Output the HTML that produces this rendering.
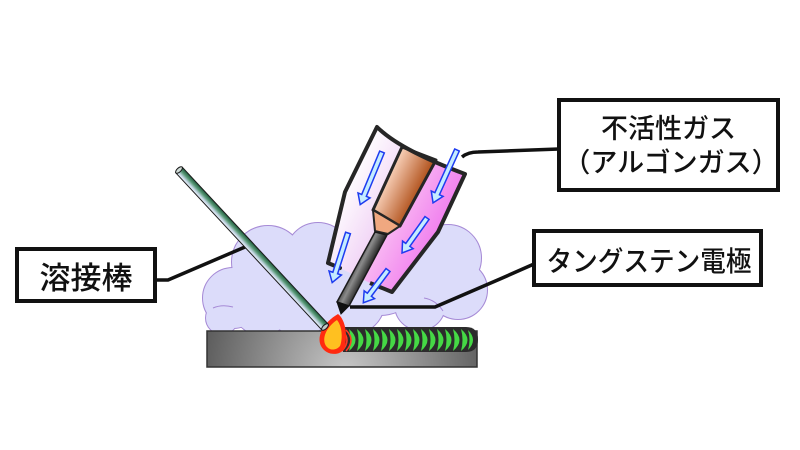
<!DOCTYPE html>
<html><head><meta charset="utf-8">
<style>html,body{margin:0;padding:0;background:#fff;}svg{display:block}</style></head>
<body>
<svg width="800" height="450" viewBox="0 0 800 450" xmlns="http://www.w3.org/2000/svg">
<defs>
  <linearGradient id="noz" gradientUnits="userSpaceOnUse" x1="340" y1="190" x2="440" y2="241">
    <stop offset="0" stop-color="#ffffff"/>
    <stop offset="0.45" stop-color="#f2d6f6"/>
    <stop offset="0.55" stop-color="#f8b4f2"/>
    <stop offset="1" stop-color="#f07aee"/>
  </linearGradient>
  <linearGradient id="cop" gradientUnits="userSpaceOnUse" x1="386" y1="180" x2="418" y2="196">
    <stop offset="0" stop-color="#f8d0b8"/>
    <stop offset="1" stop-color="#b0501a"/>
  </linearGradient>
  <linearGradient id="ele" gradientUnits="userSpaceOnUse" x1="355" y1="266" x2="367" y2="272">
    <stop offset="0" stop-color="#555"/>
    <stop offset="0.35" stop-color="#8a8a8a"/>
    <stop offset="1" stop-color="#2e2e2e"/>
  </linearGradient>
  <linearGradient id="rod" x1="0" y1="0" x2="0" y2="1">
    <stop offset="0" stop-color="#1e5a3c"/>
    <stop offset="0.4" stop-color="#5a9a78"/>
    <stop offset="0.75" stop-color="#c4d6e4"/>
    <stop offset="1" stop-color="#eef2fa"/>
  </linearGradient>
  <radialGradient id="plate" gradientUnits="userSpaceOnUse" cx="345" cy="372" r="150">
    <stop offset="0" stop-color="#c8c8c8"/>
    <stop offset="1" stop-color="#575757"/>
  </radialGradient>
</defs>

<!-- cloud -->
<g fill="none" stroke="#a68ad6" stroke-width="2">
  <circle cx="233" cy="298" r="30"/><circle cx="222" cy="318" r="16"/>
  <circle cx="268" cy="262" r="36"/><circle cx="318" cy="255" r="32"/>
  <circle cx="300" cy="295" r="40"/><circle cx="262" cy="305" r="30"/>
  <circle cx="380" cy="270" r="45"/><circle cx="350" cy="300" r="35"/>
  <circle cx="448" cy="258" r="33"/><circle cx="458" cy="290" r="29"/>
  <circle cx="420" cy="305" r="25"/>
</g>
<g fill="#dcdcfa">
  <circle cx="233" cy="298" r="30"/><circle cx="222" cy="318" r="16"/>
  <circle cx="268" cy="262" r="36"/><circle cx="318" cy="255" r="32"/>
  <circle cx="300" cy="295" r="40"/><circle cx="262" cy="305" r="30"/>
  <circle cx="380" cy="270" r="45"/><circle cx="350" cy="300" r="35"/>
  <circle cx="448" cy="258" r="33"/><circle cx="458" cy="290" r="29"/>
  <circle cx="420" cy="305" r="25"/>
</g>
<g fill="none" stroke="#a68ad6" stroke-width="1">
  <path d="M213,308 Q222,304 233,307"/>
  <path d="M424,298 Q436,300 443,311"/>
</g>

<!-- connector lines -->
<g fill="none" stroke="#111" stroke-width="3.5" stroke-linejoin="round">
  <path d="M157,280 L168,280 L252,244"/>
  <path d="M350,307 L435,307 L500,279 L534,264"/>
  <path d="M462,157 Q468,152 478,152 L559,149"/>
</g>

<!-- plate -->
<rect x="207" y="331" width="270" height="36" fill="url(#plate)" stroke="#333" stroke-width="1.5"/>

<!-- bead -->
<path d="M343,327 L466,327 Q478,327 478,339.5 Q478,352 466,352 L343,352 Z" fill="#2c2c2c"/>
<g fill="#45d845">
  <path d="M349,329 Q362,340 349,351 Q352,340 349,329 Z"/>
  <path d="M357,329 Q370,340 357,351 Q360,340 357,329 Z"/>
  <path d="M365,329 Q378,340 365,351 Q368,340 365,329 Z"/>
  <path d="M373,329 Q386,340 373,351 Q376,340 373,329 Z"/>
  <path d="M381,329 Q394,340 381,351 Q384,340 381,329 Z"/>
  <path d="M389,329 Q402,340 389,351 Q392,340 389,329 Z"/>
  <path d="M397,329 Q410,340 397,351 Q400,340 397,329 Z"/>
  <path d="M405,329 Q418,340 405,351 Q408,340 405,329 Z"/>
  <path d="M413,329 Q426,340 413,351 Q416,340 413,329 Z"/>
  <path d="M421,329 Q434,340 421,351 Q424,340 421,329 Z"/>
  <path d="M429,329 Q442,340 429,351 Q432,340 429,329 Z"/>
  <path d="M437,329 Q450,340 437,351 Q440,340 437,329 Z"/>
  <path d="M445,329 Q458,340 445,351 Q448,340 445,329 Z"/>
  <path d="M453,329 Q466,340 453,351 Q456,340 453,329 Z"/>
  <path d="M461,329 Q474,340 461,351 Q464,340 461,329 Z"/>
  <path d="M468,330 Q478,340 468,350 Q471,340 468,330 Z"/>
</g>
<g fill="none" stroke="#ff3a2a" stroke-width="1.5">
  <path d="M342,330 Q352,340 342,351"/>
  <path d="M346,330 Q356,340 346,351"/>
</g>

<!-- torch nozzle -->
<path d="M377,127 Q400,150 465,174 L438,232 L392,292 L370,283 L340,268 L328,263 L345,192 Z" fill="url(#noz)"/>
<path d="M402,147 L436,160 L400,226 L373,210 Z" fill="url(#cop)" stroke="#262626" stroke-width="3" stroke-linejoin="round"/>
<path d="M373,210 L400,226 L388,234 L375,231 Z" fill="#f0a880" stroke="#262626" stroke-width="2" stroke-linejoin="round"/>
<path d="M328,263 L345,192 L377,127 Q400,150 465,174 L438,232 L392,292 L370,283" fill="none" stroke="#262626" stroke-width="4" stroke-linejoin="round"/>
<path d="M328,263 L340,268" fill="none" stroke="#262626" stroke-width="4" stroke-linecap="round"/>
<!-- electrode -->
<path d="M375,232 L387,235 L349,306 L337,302 Z" fill="url(#ele)" stroke="#1a1a1a" stroke-width="1.5" stroke-linejoin="round"/>
<path d="M337,302 L349,306 L341,314 Z" fill="#111" stroke="#111" stroke-width="1"/>

<!-- gas arrows -->
<g fill="#c4ecff" stroke="#1d3cf0" stroke-width="1.5" stroke-linejoin="miter">
  <polygon transform="translate(382,152) rotate(112.5)" points="0,-2.5 47,-2.5 47,-6.5 57,0 47,6.5 47,2.5 0,2.5"/>
  <polygon transform="translate(348,233) rotate(107.7)" points="0,-2.5 42,-2.5 42,-6.5 52,0 42,6.5 42,2.5 0,2.5"/>
  <polygon transform="translate(457,150) rotate(114.4)" points="0,-2.5 48,-2.5 48,-6.5 58,0 48,6.5 48,2.5 0,2.5"/>
  <polygon transform="translate(427,218) rotate(125.5)" points="0,-2.5 33,-2.5 33,-6.5 43,0 33,6.5 33,2.5 0,2.5"/>
  <polygon transform="translate(388,270) rotate(127)" points="0,-2.5 31,-2.5 31,-6.5 41,0 31,6.5 31,2.5 0,2.5"/>
</g>

<!-- weld pool -->
<path d="M338,314 C346,320 348,338 344,349 C340,356 326,356 321,346 C316,336 324,322 338,314 Z" fill="#ff2a10"/>
<path d="M337,320 C342,326 343,338 340,346 C336,351 328,351 325,344 C322,336 328,326 337,320 Z" fill="#ffc020"/>

<!-- filler rod -->
<g transform="translate(179,170) rotate(47.08)">
  <rect x="0" y="-4.3" width="214.4" height="8.6" fill="url(#rod)" stroke="#1a1a1a" stroke-width="1"/>
  <ellipse cx="0" cy="0" rx="2" ry="4.3" fill="#d0dcd8" stroke="#1a1a1a" stroke-width="1"/>
  <ellipse cx="214.4" cy="0" rx="2" ry="4.3" fill="#c0c8c8" stroke="#1a1a1a" stroke-width="1"/>
</g>

<!-- label boxes -->
<g fill="#fff" stroke="#111" stroke-width="4">
  <rect x="559" y="100" width="219" height="90"/>
  <rect x="534" y="231" width="227" height="54"/>
  <rect x="17" y="249" width="138" height="52"/>
</g>
<g font-family="'Liberation Sans','Noto Sans CJK JP',sans-serif" font-weight="500" fill="#111" text-anchor="middle">
  <text x="668.5" y="138" font-size="27">不活性ガス</text>
  <text x="671" y="172" font-size="27">（アルゴンガス）</text>
  <text x="649" y="271" font-size="28" textLength="205" lengthAdjust="spacingAndGlyphs">タングステン電極</text>
  <text x="86" y="289" font-size="31">溶接棒</text>
</g>
</svg>
</body></html>
